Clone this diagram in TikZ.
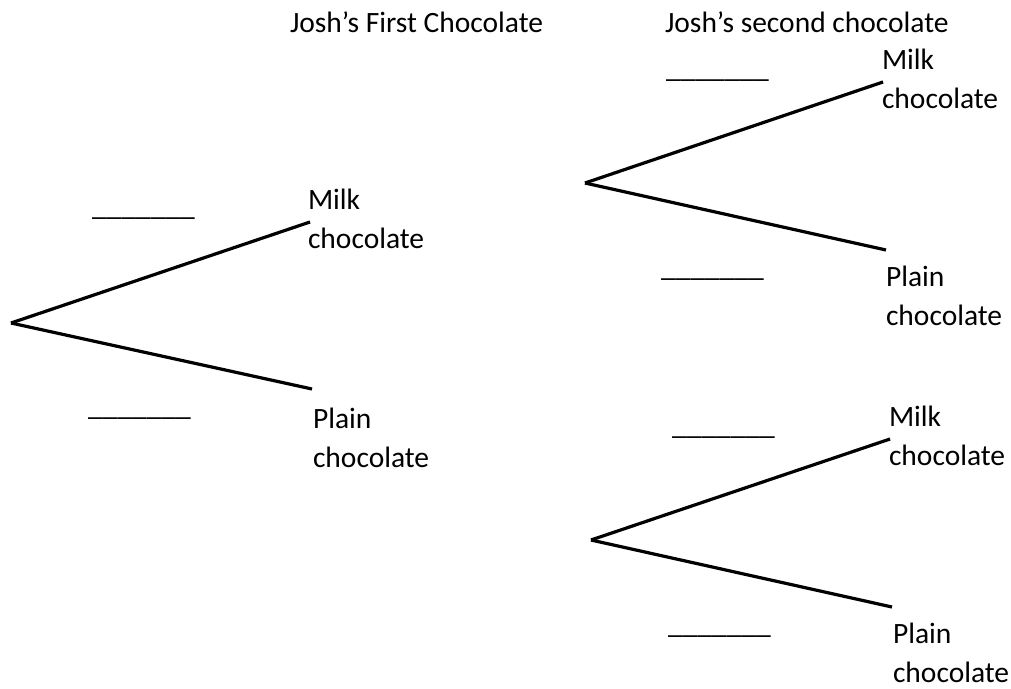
\documentclass[tikz,border=0pt]{standalone}
\usepackage{fontspec}
\setmainfont{Carlito}
\begin{document}
\begin{tikzpicture}[x=1pt,y=-1pt,
  branch/.style={line width=3.2pt, line cap=butt},
  lbl/.style={anchor=base west, inner sep=0pt, outer sep=0pt, align=left, font=\fontsize{29.5}{38.5}\selectfont},
  blank/.style={anchor=base west, inner sep=0pt, outer sep=0pt, font=\fontsize{29.5}{38.5}\selectfont}]
\useasboundingbox (0,0) rectangle (1011,688);
% titles
\node[lbl] (t1) at (290,32) {Josh’s First Chocolate};
\node[lbl] (t2) at (665,32) {Josh’s second chocolate};
% tree 1
\coordinate (r1) at (11,323);
\coordinate (m1) at (310,222);
\coordinate (p1) at (312,389);
\draw[branch] (r1) -- (m1);
\draw[branch] (r1) -- (p1);
\node[lbl] (lm1) at (308,248) {Milk\\chocolate};
\node[lbl] (lp1) at (313,467) {Plain\\chocolate};
\node[blank] (b1) at (92,215) {\_\_\_\_\_\_\_};
\node[blank] (b2) at (88,415) {\_\_\_\_\_\_\_};
% tree 2
\coordinate (r2) at (585,183);
\coordinate (m2) at (883,82);
\coordinate (p2) at (886,250);
\draw[branch] (r2) -- (m2);
\draw[branch] (r2) -- (p2);
\node[lbl] (lm2) at (882,108) {Milk\\chocolate};
\node[lbl] (lp2) at (886,325) {Plain\\chocolate};
\node[blank] (b3) at (666,77) {\_\_\_\_\_\_\_};
\node[blank] (b4) at (661,276) {\_\_\_\_\_\_\_};
% tree 3
\coordinate (r3) at (591,540);
\coordinate (m3) at (890,439);
\coordinate (p3) at (892,607);
\draw[branch] (r3) -- (m3);
\draw[branch] (r3) -- (p3);
\node[lbl] (lm3) at (889,465) {Milk\\chocolate};
\node[lbl] (lp3) at (893,682) {Plain\\chocolate};
\node[blank] (b5) at (672,434) {\_\_\_\_\_\_\_};
\node[blank] (b6) at (668,633) {\_\_\_\_\_\_\_};
\end{tikzpicture}
\end{document}
